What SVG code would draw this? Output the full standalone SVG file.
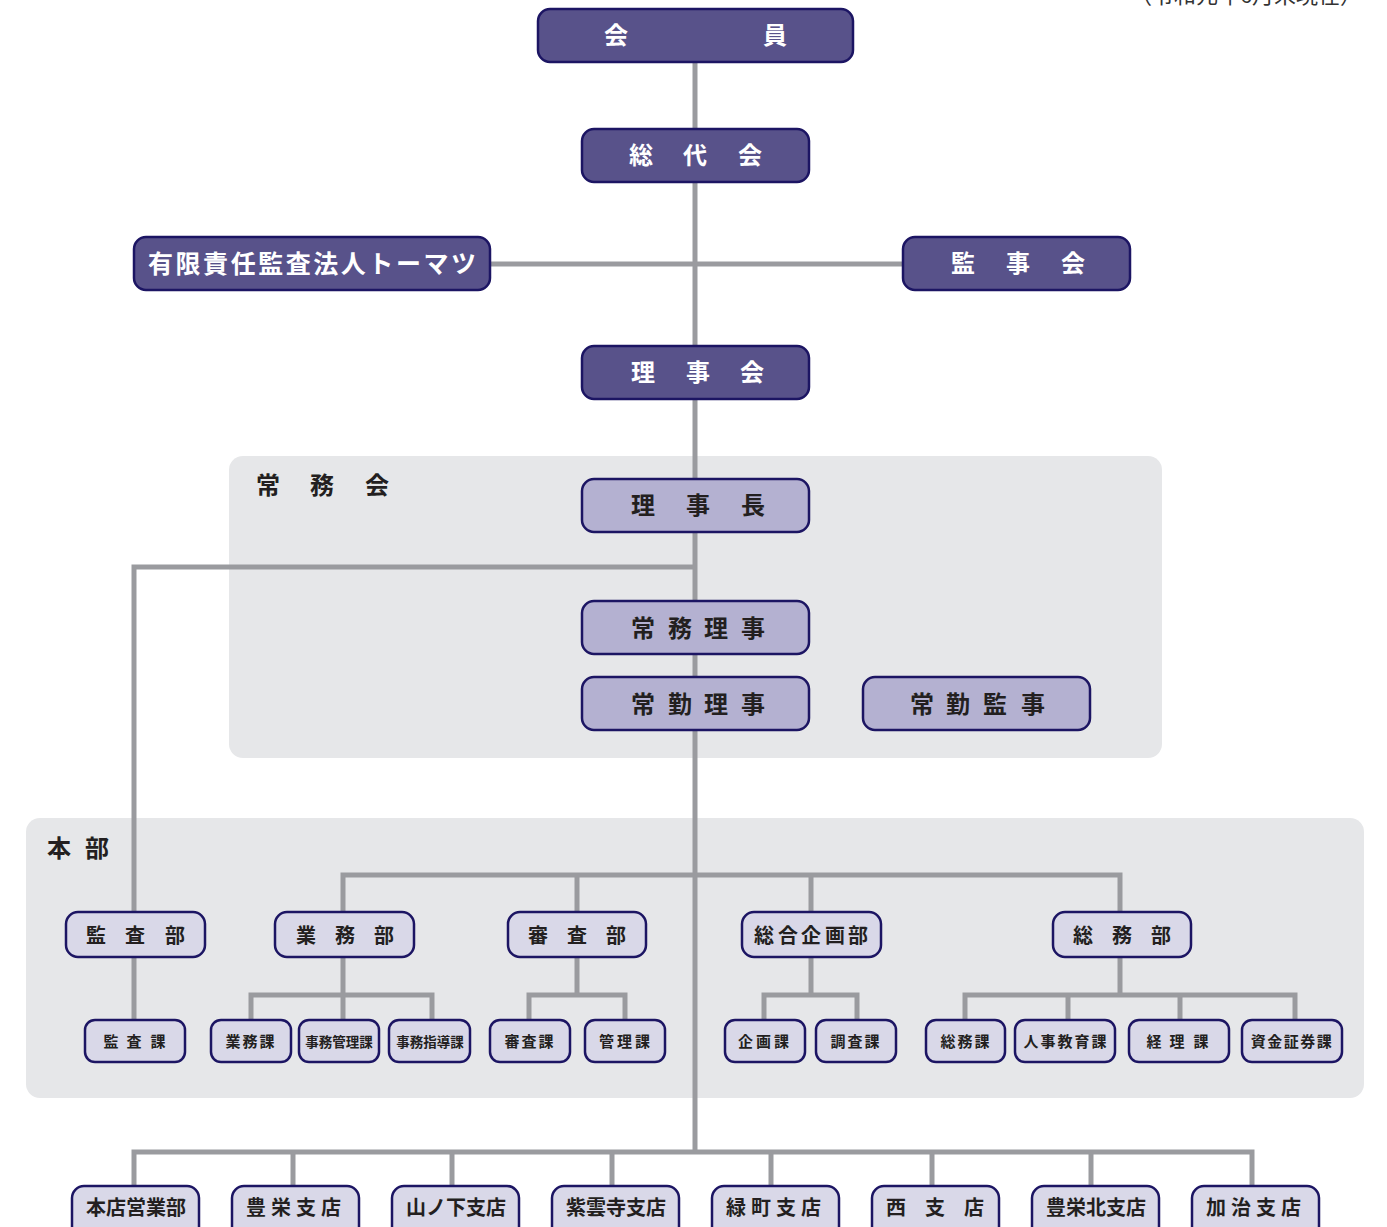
<svg xmlns="http://www.w3.org/2000/svg" width="1387" height="1227" viewBox="0 0 1387 1227">
<style>
text{font-family:"Noto Sans CJK JP","Noto Sans CJK SC",sans-serif;font-weight:bold;text-anchor:middle}
.panel{fill:#e6e7e9}
.dk rect{fill:#58528a;stroke:#1c1563;stroke-width:2.5}
.dk text{fill:#fff;font-size:24px}
.md rect{fill:#b4b1d1;stroke:#1c1563;stroke-width:2.5}
.md text{fill:#231f20;font-size:24px}
.lt rect{fill:#d9d8e8;stroke:#1c1563;stroke-width:2.5}
.lt text{fill:#231f20;font-size:20px}
.sm text{font-size:15px}
.lbl{fill:#231f20;font-size:24px}
.ln{fill:none;stroke:#9a9b9f;stroke-width:5}
</style>
<text x="1246" y="3" style="font-size:22px;font-weight:normal;fill:#333">（令和元年6月末現在）</text>
<rect class="panel" x="229" y="456" width="933" height="302" rx="14"/>
<rect class="panel" x="26" y="818" width="1338" height="280" rx="14"/>
<text class="lbl" x="268 322 377" y="494">常務会</text>
<text class="lbl" x="59 97" y="857">本部</text>
<g id="connectors" class="ln">
<path d="M695 62V1152"/>
<path d="M490 264H903"/>
<path d="M695 567H134V1020"/>
<path d="M343 912V875H1120V912M577 875V912M811 875V912"/>
<path d="M343 957V995M251 1020V995H432V1020M343 995V1020"/>
<path d="M577 957V995M529 1020V995H625V1020"/>
<path d="M811 957V995M764 1020V995H857V1020"/>
<path d="M1120 957V995M965 1020V995H1295V1020M1068 995V1020M1180 995V1020"/>
<path d="M134 1186V1152H1252V1186M293 1152V1186M452 1152V1186M612 1152V1186M771 1152V1186M932 1152V1186M1091 1152V1186"/>
</g>
<g class="dk">
<g id="kaiin"><rect x="538" y="9" width="315" height="53" rx="12"/><text x="616 775" y="44">会員</text></g>
<g id="soudaikai"><rect x="582" y="129" width="227" height="53" rx="12"/><text x="641 695 750" y="164">総代会</text></g>
<g id="tohmatsu"><rect x="134" y="237" width="356" height="53" rx="12"/><text x="312" y="273" style="font-size:25px" textLength="328" lengthAdjust="spacing">有限責任監査法人トーマツ</text></g>
<g id="kanjikai"><rect x="903" y="237" width="227" height="53" rx="12"/><text x="963 1018 1073" y="272">監事会</text></g>
<g id="rijikai"><rect x="582" y="346" width="227" height="53" rx="12"/><text x="643 698 752" y="381">理事会</text></g>
</g>
<g class="md">
<g id="rijicho"><rect x="582" y="479" width="227" height="53" rx="12"/><text x="643 698 753" y="514">理事長</text></g>
<g id="jomuriji"><rect x="582" y="601" width="227" height="53" rx="12"/><text x="643 680 716 753" y="637">常務理事</text></g>
<g id="jokinriji"><rect x="582" y="677" width="227" height="53" rx="12"/><text x="643 680 716 753" y="713">常勤理事</text></g>
<g id="jokinkanji"><rect x="863" y="677" width="227" height="53" rx="12"/><text x="922 958 995 1033" y="713">常勤監事</text></g>
</g>
<g class="lt">
<g id="kansabu"><rect x="66" y="912" width="139" height="45" rx="12"/><text x="96 135 175" y="943">監査部</text></g>
<g id="gyomubu"><rect x="275" y="912" width="139" height="45" rx="12"/><text x="306 345 384" y="943">業務部</text></g>
<g id="shinsabu"><rect x="508" y="912" width="138" height="45" rx="12"/><text x="538 577 616" y="943">審査部</text></g>
<g id="kikakubu"><rect x="742" y="912" width="139" height="45" rx="12"/><text x="764 788 811 835 858" y="943">総合企画部</text></g>
<g id="somubu"><rect x="1053" y="912" width="138" height="45" rx="12"/><text x="1083 1122 1161" y="943">総務部</text></g>
</g>
<g class="lt sm">
<g id="kansaka"><rect x="85" y="1020" width="100" height="42" rx="10"/><text x="111 134 158" y="1047">監査課</text></g>
<g id="gyomuka"><rect x="211" y="1020" width="80" height="42" rx="10"/><text x="251" y="1047" letter-spacing="2">業務課</text></g>
<g id="jimukanrika"><rect x="299" y="1020" width="80" height="42" rx="10"/><text x="339" y="1047" style="font-size:13.5px">事務管理課</text></g>
<g id="jimushidoka"><rect x="389" y="1020" width="81" height="42" rx="10"/><text x="430" y="1047" style="font-size:13.5px">事務指導課</text></g>
<g id="shinsaka"><rect x="490" y="1020" width="80" height="42" rx="10"/><text x="530" y="1047" letter-spacing="2">審査課</text></g>
<g id="kanrika"><rect x="585" y="1020" width="80" height="42" rx="10"/><text x="626" y="1047" letter-spacing="3">管理課</text></g>
<g id="kikakuka"><rect x="725" y="1020" width="80" height="42" rx="10"/><text x="765" y="1047" letter-spacing="3">企画課</text></g>
<g id="chosaka"><rect x="816" y="1020" width="80" height="42" rx="10"/><text x="856" y="1047" letter-spacing="2">調査課</text></g>
<g id="somuka"><rect x="926" y="1020" width="79" height="42" rx="10"/><text x="966" y="1047" letter-spacing="2">総務課</text></g>
<g id="jinjika"><rect x="1015" y="1020" width="100" height="42" rx="10"/><text x="1066" y="1047" letter-spacing="2">人事教育課</text></g>
<g id="keirika"><rect x="1129" y="1020" width="100" height="42" rx="10"/><text x="1154 1177 1201" y="1047">経理課</text></g>
<g id="shikinka"><rect x="1242" y="1020" width="100" height="42" rx="10"/><text x="1292" y="1047" letter-spacing="1.5">資金証券課</text></g>
</g>
<g class="lt">
<g id="honten"><rect x="72" y="1186" width="127" height="53" rx="12"/><text x="136" y="1215">本店営業部</text></g>
<g id="hoei"><rect x="232" y="1186" width="127" height="53" rx="12"/><text x="296" y="1215" letter-spacing="5">豊栄支店</text></g>
<g id="yamanoshita"><rect x="392" y="1186" width="127" height="53" rx="12"/><text x="456" y="1215">山ノ下支店</text></g>
<g id="shiunji"><rect x="552" y="1186" width="127" height="53" rx="12"/><text x="616" y="1215">紫雲寺支店</text></g>
<g id="midorimachi"><rect x="712" y="1186" width="127" height="53" rx="12"/><text x="776" y="1215" letter-spacing="5">緑町支店</text></g>
<g id="nishi"><rect x="872" y="1186" width="127" height="53" rx="12"/><text x="896 935 974" y="1215">西支店</text></g>
<g id="hoeikita"><rect x="1032" y="1186" width="127" height="53" rx="12"/><text x="1096" y="1215">豊栄北支店</text></g>
<g id="kaji"><rect x="1192" y="1186" width="127" height="53" rx="12"/><text x="1256" y="1215" letter-spacing="5">加治支店</text></g>
</g>
</svg>
